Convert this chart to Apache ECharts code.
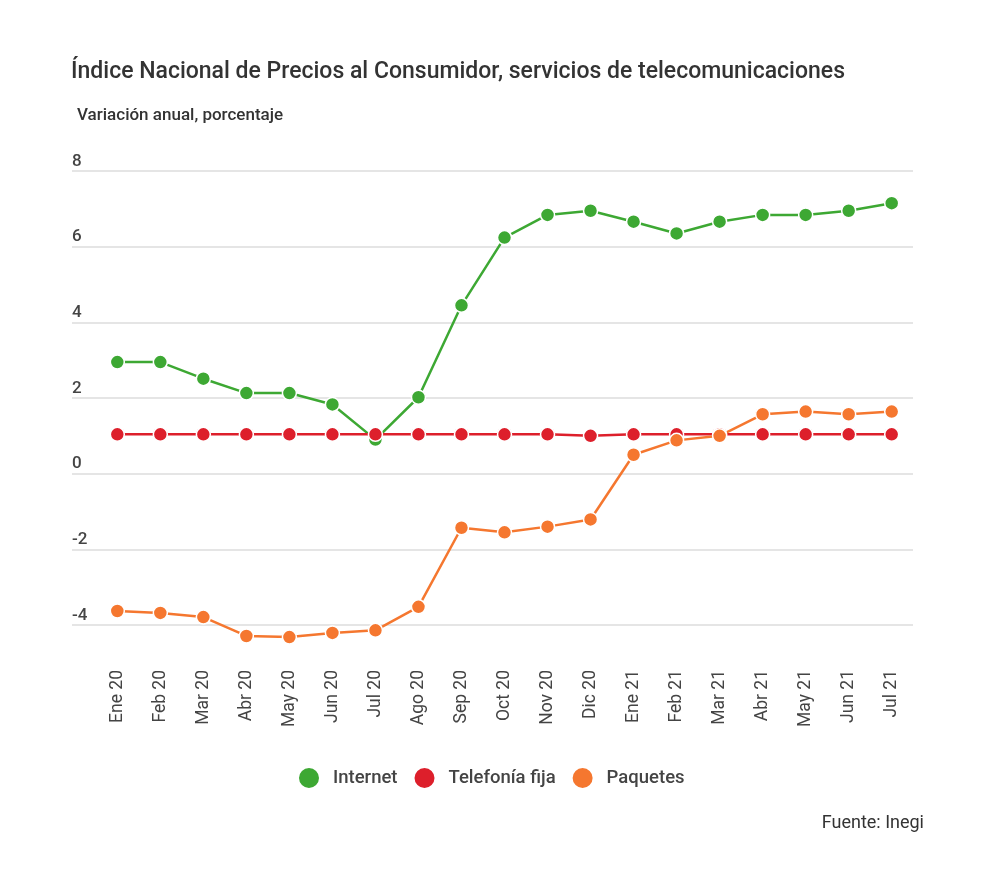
<!DOCTYPE html>
<html>
<head>
<meta charset="utf-8">
<title>INPC telecomunicaciones</title>
<script src="https://cdn.jsdelivr.net/npm/echarts@6/dist/echarts.min.js"></script>
<style>
  html, body { margin: 0; padding: 0; background: #fff; }
  #chart { width: 1000px; height: 872px; }
</style>
</head>
<body>
<div id="chart"></div>
<script>
// Meses (Ene 20 - Jul 21)
const months = ['Ene 20', 'Feb 20', 'Mar 20', 'Abr 20', 'May 20', 'Jun 20', 'Jul 20', 'Ago 20', 'Sep 20',
  'Oct 20', 'Nov 20', 'Dic 20', 'Ene 21', 'Feb 21', 'Mar 21', 'Abr 21', 'May 21', 'Jun 21', 'Jul 21'];

// Variación anual, porcentaje
const internet = [2.95, 2.95, 2.51, 2.13, 2.13, 1.83, 0.9, 2.02, 4.45,
  6.24, 6.84, 6.95, 6.66, 6.35, 6.66, 6.84, 6.84, 6.95, 7.15];
const telefoniaFija = [1.04, 1.04, 1.04, 1.04, 1.04, 1.04, 1.04, 1.04, 1.04,
  1.04, 1.04, 1.0, 1.04, 1.04, 1.04, 1.04, 1.04, 1.04, 1.04];
const paquetes = [-3.63, -3.68, -3.79, -4.29, -4.32, -4.21, -4.14, -3.52, -1.43,
  -1.55, -1.40, -1.21, 0.50, 0.88, 1.0, 1.57, 1.64, 1.57, 1.64];

const yTicks = { min: -4, max: 8, interval: 2 };

const colors = {
  internet: '#3da833',
  telefonia: '#dd1f2b',
  paquetes: '#f5772f'
};

const font = 'Roboto, "Noto Sans", sans-serif';

const chart = echarts.init(document.getElementById('chart'));

function lineSeries(name, data, color) {
  return {
    name: name,
    type: 'line',
    xAxisIndex: 1,
    yAxisIndex: 1,
    data: data,
    clip: false,
    symbol: 'circle',
    symbolSize: 14,
    lineStyle: { color: color, width: 2.5 },
    itemStyle: { color: color, borderColor: '#ffffff', borderWidth: 1.5 },
    emphasis: { disabled: true }
  };
}

chart.setOption({
  backgroundColor: '#ffffff',
  animation: false,
  color: [colors.internet, colors.telefonia, colors.paquetes],
  title: [
    {
      text: 'Índice Nacional de Precios al Consumidor, servicios de telecomunicaciones',
      left: 66,
      top: 56,
      textStyle: { fontFamily: font, fontSize: 23, fontWeight: 500, color: '#333333' }
    },
    {
      text: 'Variación anual, porcentaje',
      left: 72,
      top: 102,
      textStyle: { fontFamily: font, fontSize: 17, fontWeight: 500, color: '#333333' }
    },
    {
      text: 'Fuente: Inegi',
      right: 71,
      top: 809,
      textStyle: { fontFamily: font, fontSize: 18, fontWeight: 400, color: '#333333' }
    }
  ],
  legend: {
    data: ['Internet', 'Telefonía fija', 'Paquetes'],
    left: 292,
    top: 761,
    icon: 'circle',
    itemWidth: 22,
    itemHeight: 22,
    itemGap: 15,
    textStyle: { fontFamily: font, fontSize: 18.5, fontWeight: 500, color: '#444444', padding: [0, 0, 0, 8] }
  },
  grid: [
    // grid for horizontal gridlines and y labels
    { left: 72, right: 87, top: 171, bottom: 247 },
    // grid for series and month labels
    { left: 95.8, right: 86.8, top: 171, bottom: 247 }
  ],
  xAxis: [
    { type: 'value', gridIndex: 0, show: false },
    {
      type: 'category',
      gridIndex: 1,
      data: months,
      boundaryGap: true,
      axisLine: { show: false },
      axisTick: { show: false },
      axisLabel: {
        rotate: 90,
        margin: 45,
        fontFamily: font,
        fontSize: 17.5,
        color: '#444444'
      }
    }
  ],
  yAxis: [
    {
      type: 'value',
      gridIndex: 0,
      min: yTicks.min,
      max: yTicks.max,
      interval: yTicks.interval,
      axisLine: { show: false },
      axisTick: { show: false },
      splitLine: { lineStyle: { color: '#dddddd', width: 1.5 } },
      axisLabel: {
        inside: true,
        margin: 0,
        verticalAlign: 'bottom',
        padding: [0, 0, 1, 0],
        fontFamily: font,
        fontSize: 17,
        fontWeight: 500,
        color: '#444444'
      }
    },
    {
      type: 'value',
      gridIndex: 1,
      min: yTicks.min,
      max: yTicks.max,
      interval: yTicks.interval,
      show: false,
      splitLine: { show: false }
    }
  ],
  series: [
    lineSeries('Internet', internet, colors.internet),
    lineSeries('Telefonía fija', telefoniaFija, colors.telefonia),
    lineSeries('Paquetes', paquetes, colors.paquetes)
  ]
});
</script>
</body>
</html>
